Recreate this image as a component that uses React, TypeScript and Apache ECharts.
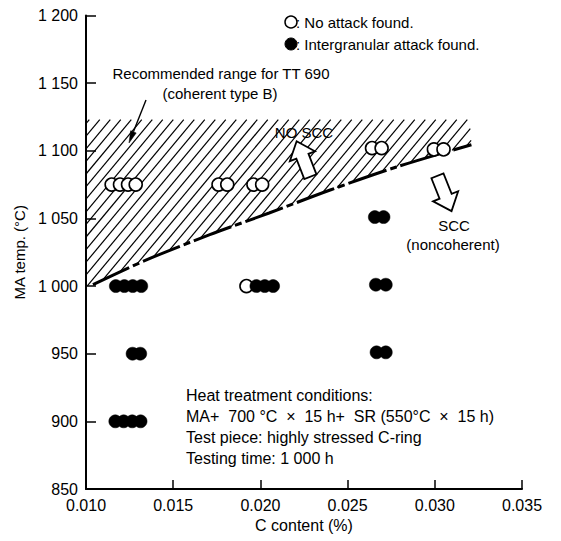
import React, { useEffect, useRef } from "react";
import * as echarts from "echarts";

const xTickLabels = ["0.010", "0.015", "0.020", "0.025", "0.030", "0.035"];
const yTickLabels = ["850", "900", "950", "1 000", "1 050", "1 100", "1 150", "1 200"];

// Open circles: no attack found
const noAttackC = [0.01147, 0.01195, 0.01241, 0.01285, 0.0176, 0.0181, 0.0196, 0.0201, 0.0192, 0.0264, 0.02695, 0.02995, 0.0305];
const noAttackT = [1075, 1075, 1075, 1075, 1075, 1075, 1075, 1075, 1000, 1102, 1102, 1101, 1101];

// Filled circles: intergranular attack found
const attackC = [0.01171, 0.0122, 0.01268, 0.01317, 0.01168, 0.01216, 0.01265, 0.01313, 0.01267, 0.01311, 0.01977, 0.02025, 0.02073, 0.02656, 0.02706, 0.02662, 0.02719, 0.02666, 0.02719];
const attackT = [1000, 1000, 1000, 1000, 900, 900, 900, 900, 950, 950, 1000, 1000, 1000, 1051, 1051, 1001, 1001, 951, 951];

// Boundary curve between coherent / noncoherent
const boundaryC = [0.0104, 0.0134, 0.0171, 0.0205, 0.024, 0.0278, 0.0321];
const boundaryT = [1001, 1019, 1038, 1054, 1071, 1088, 1104.5];

// Recommended range (hatched)
const rangeLeft = 0.01;
const rangeRight = 0.032;
const rangeTop = 1123;
const rangeBottomLeft = 1000;

const FONT = '"Liberation Sans", Arial, sans-serif';

function fatArrow(cx: number, cy: number, rotation: number) {
  const pts = [
    [0, -19],
    [13.5, -3],
    [6.5, -3],
    [6.5, 19],
    [-6.5, 19],
    [-6.5, -3],
    [-13.5, -3],
  ];
  return {
    type: "polygon",
    x: cx,
    y: cy,
    rotation,
    shape: { points: pts },
    style: { fill: "#fff", stroke: "#000", lineWidth: 1.8 },
    z: 10,
  };
}

function thinArrow(x1: number, y1: number, x2: number, y2: number) {
  const dx = x2 - x1;
  const dy = y2 - y1;
  const len = Math.sqrt(dx * dx + dy * dy);
  const ux = dx / len;
  const uy = dy / len;
  const hl = 12;
  const hw = 3;
  const bx = x2 - ux * hl;
  const by = y2 - uy * hl;
  return [
    {
      type: "line",
      shape: { x1, y1, x2: bx, y2: by },
      style: { stroke: "#000", lineWidth: 1.4 },
      z: 10,
    },
    {
      type: "polygon",
      shape: {
        points: [
          [x2, y2],
          [bx - uy * hw, by + ux * hw],
          [bx + uy * hw, by - ux * hw],
        ],
      },
      style: { fill: "#000", stroke: "#000", lineWidth: 0.5 },
      z: 10,
    },
  ];
}

function txt(text: string, x: number, y: number, size: number, align: string = "left") {
  return {
    type: "text",
    x,
    y,
    style: {
      text,
      fill: "#000",
      fontSize: size,
      fontFamily: FONT,
      textAlign: align,
      textVerticalAlign: "middle",
    },
    z: 10,
  };
}

export default function App() {
  const ref = useRef<HTMLDivElement>(null);

  useEffect(() => {
    if (!ref.current) return;
    const chart = echarts.init(ref.current, null, { renderer: "svg" });

    const hatchPoly: number[][] = [
      [rangeLeft, rangeTop],
      [rangeRight, rangeTop],
    ];
    for (let i = boundaryC.length - 1; i >= 0; i--) hatchPoly.push([boundaryC[i], boundaryT[i]]);
    hatchPoly.push([rangeLeft, rangeBottomLeft]);

    const option: any = {
      animation: false,
      backgroundColor: "#fff",
      grid: { left: 86, right: 39, top: 15.5, bottom: 52, containLabel: false },
      xAxis: {
        type: "value",
        min: 0.01,
        max: 0.035,
        interval: 0.005,
        name: "C content (%)",
        nameLocation: "middle",
        nameGap: 26,
        nameTextStyle: { color: "#000", fontSize: 16, fontFamily: FONT },
        axisLine: { lineStyle: { color: "#000", width: 2 } },
        axisTick: { inside: true, length: 9, lineStyle: { color: "#000", width: 1.5 } },
        splitLine: { show: false },
        axisLabel: {
          color: "#000",
          fontSize: 16,
          fontFamily: FONT,
          margin: 8,
          formatter: (v: number) => xTickLabels[Math.round((v - 0.01) / 0.005)] ?? "",
        },
      },
      yAxis: {
        type: "value",
        min: 850,
        max: 1200,
        interval: 50,
        name: "MA temp. (°C)",
        nameLocation: "middle",
        nameGap: 56,
        nameTextStyle: { color: "#000", fontSize: 15, fontFamily: FONT },
        axisLine: { show: true, lineStyle: { color: "#000", width: 2 } },
        axisTick: { show: true, inside: true, length: 10, lineStyle: { color: "#000", width: 1.5 } },
        splitLine: { show: false },
        axisLabel: {
          color: "#000",
          fontSize: 16,
          fontFamily: FONT,
          margin: 8,
          formatter: (v: number) => yTickLabels[Math.round((v - 850) / 50)] ?? "",
        },
      },
      series: [
        {
          type: "custom",
          silent: true,
          z: 1,
          data: [[0.02, 1100]],
          renderItem: (_params: any, api: any) => {
            const pts = hatchPoly.map((p) => api.coord(p));
            const s = 1.2; // slope of hatch lines (screen)
            const h = 10.5; // horizontal spacing
            const fs = pts.map((p: number[]) => s * p[0] + p[1]);
            const kMin = Math.min(...fs);
            const kMax = Math.max(...fs);
            const step = s * h;
            const children: any[] = [];
            const n = pts.length;
            for (let k = Math.ceil(kMin / step) * step; k <= kMax; k += step) {
              const hits: number[] = [];
              for (let i = 0; i < n; i++) {
                const [x1, y1] = pts[i];
                const [x2, y2] = pts[(i + 1) % n];
                const f1 = s * x1 + y1 - k;
                const f2 = s * x2 + y2 - k;
                if ((f1 < 0) !== (f2 < 0)) {
                  const t = f1 / (f1 - f2);
                  hits.push(x1 + t * (x2 - x1));
                }
              }
              hits.sort((a, b) => a - b);
              for (let j = 0; j + 1 < hits.length; j += 2) {
                const a = hits[j];
                const b = hits[j + 1];
                children.push({
                  type: "line",
                  shape: { x1: a, y1: k - s * a, x2: b, y2: k - s * b },
                  style: { stroke: "#000", lineWidth: 1.2 },
                });
              }
            }
            return { type: "group", children };
          },
        },
        {
          type: "line",
          z: 3,
          smooth: 0.3,
          symbol: "none",
          silent: true,
          data: boundaryC.map((c, i) => [c, boundaryT[i]]),
          lineStyle: { color: "#000", width: 3, type: [40, 4, 7, 4] },
        },
        {
          type: "scatter",
          z: 4,
          symbol: "circle",
          symbolSize: 13,
          data: noAttackC.map((c, i) => [c, noAttackT[i]]),
          itemStyle: { color: "#fff", borderColor: "#000", borderWidth: 1.6, opacity: 1 },
        },
        {
          type: "scatter",
          z: 5,
          symbol: "circle",
          symbolSize: 13,
          data: attackC.map((c, i) => [c, attackT[i]]),
          itemStyle: { color: "#000", borderColor: "#000", borderWidth: 0.5, opacity: 1 },
        },
      ],
      graphic: [
        // legend
        {
          type: "circle",
          shape: { cx: 291, cy: 22, r: 6 },
          style: { fill: "#fff", stroke: "#000", lineWidth: 1.5 },
          z: 10,
        },
        txt(": No attack found.", 296, 22, 15),
        {
          type: "circle",
          shape: { cx: 291, cy: 44, r: 6 },
          style: { fill: "#000", stroke: "#000", lineWidth: 1 },
          z: 10,
        },
        txt(": Intergranular attack found.", 296, 44, 15),
        // annotations
        txt("Recommended range for TT 690", 221, 73, 15, "center"),
        txt("(coherent type B)", 220, 93, 15, "center"),
        ...thinArrow(146, 100, 129, 143),
        txt("NO SCC", 304, 132, 15, "center"),
        fatArrow(303.5, 159, 0.37),
        fatArrow(444.5, 193.5, Math.PI + 0.38),
        txt("SCC", 454, 225, 15, "center"),
        txt("(noncoherent)", 453, 244, 15, "center"),
        txt("Heat treatment conditions:", 186, 395, 16),
        txt("MA+  700 °C  ×  15 h+  SR (550°C  ×  15 h)", 186, 416, 16),
        txt("Test piece: highly stressed C-ring", 186, 437, 16),
        txt("Testing time: 1 000 h", 186, 458, 16),
      ],
    };

    chart.setOption(option);
    return () => chart.dispose();
  }, []);

  return (
    <div
      ref={ref}
      style={{ position: "fixed", left: 0, top: 0, width: 561, height: 541, background: "#fff" }}
    />
  );
}
